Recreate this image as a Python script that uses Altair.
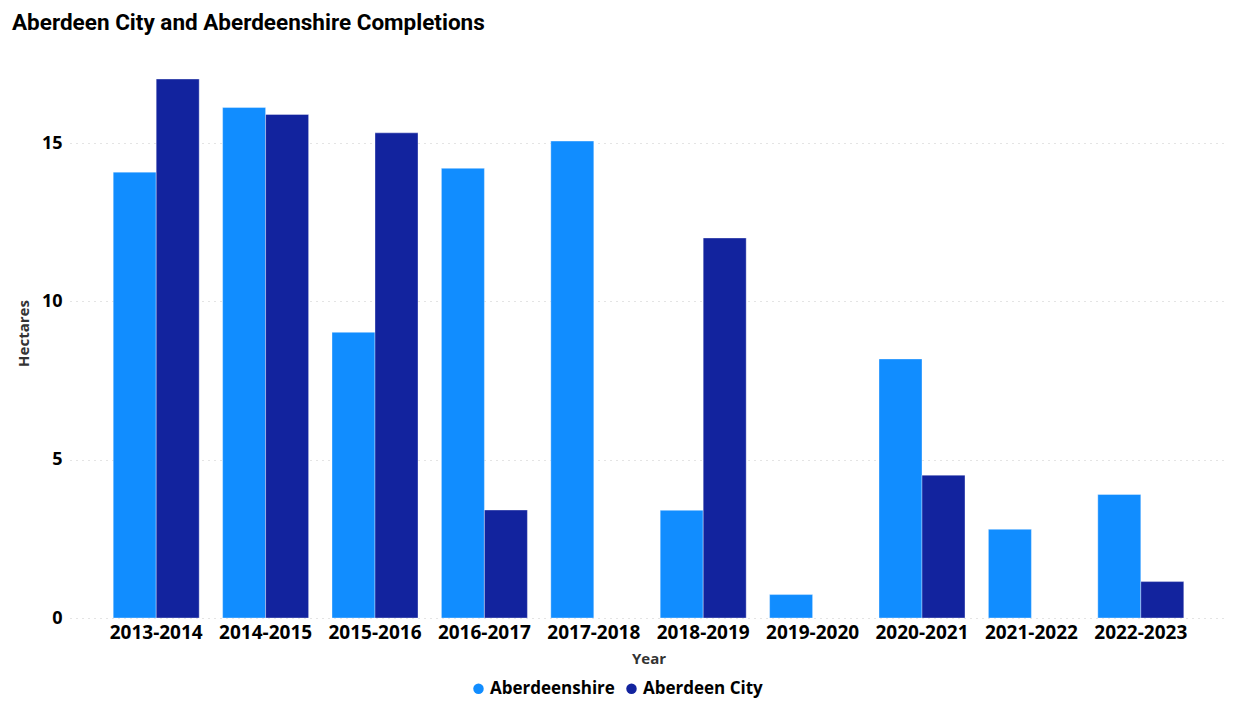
import altair as alt
import pandas as pd

years = ["2013-2014", "2014-2015", "2015-2016", "2016-2017", "2017-2018",
         "2018-2019", "2019-2020", "2020-2021", "2021-2022", "2022-2023"]
shire = [14.08, 16.12, 9.02, 14.2, 15.06, 3.4, 0.74, 8.18, 2.8, 3.9]
city = [17.02, 15.9, 15.32, 3.41, None, 12.0, None, 4.51, None, 1.15]
series = ["Aberdeenshire", "Aberdeen City"]
colors = ["#118DFF", "#12239E"]

rows = []
for y, s, c in zip(years, shire, city):
    rows.append({"Year": y, "Series": series[0], "Hectares": s})
    if c is not None:
        rows.append({"Year": y, "Series": series[1], "Hectares": c})
df = pd.DataFrame(rows)

chart = alt.Chart(df).mark_bar(stroke="#ffffff", strokeOpacity=0.35, strokeWidth=1).encode(
    x=alt.X("Year:N", sort=years,
            scale=alt.Scale(paddingInner=0.214, paddingOuter=0.395),
            axis=alt.Axis(title="Year", labelAngle=0, labelFont="Open Sans",
                          labelFontWeight="bold", labelFontSize=19, labelColor="#000000",
                          labelPadding=5, ticks=False, domain=False,
                          titleFont="Open Sans", titleFontWeight="bold", titleFontSize=15,
                          titleColor="#333333", titlePadding=9)),
    xOffset=alt.XOffset("Series:N", sort=series, scale=alt.Scale(domain=series, paddingInner=0, paddingOuter=0)),
    y=alt.Y("Hectares:Q", scale=alt.Scale(domain=[0, 18], nice=False),
            axis=alt.Axis(title="Hectares", values=[0, 5, 10, 15], labelFont="Open Sans",
                          labelFontWeight="bold", labelFontSize=18, labelColor="#000000",
                          labelPadding=8, ticks=False, domain=False,
                          gridDash=[1, 5], gridColor="#c8c8c8", gridWidth=1,
                          titleFont="Open Sans", titleFontWeight="bold", titleFontSize=15,
                          titleColor="#333333", titlePadding=10)),
    color=alt.Color("Series:N", sort=series,
                    scale=alt.Scale(domain=series, range=colors),
                    legend=alt.Legend(title=None, orient="none", direction="horizontal",
                                      legendX=400, legendY=632, symbolType="circle",
                                      symbolSize=110, symbolOpacity=1, symbolStrokeWidth=0,
                                      labelFont="Open Sans", labelFontWeight="bold",
                                      labelFontSize=17, labelColor="#000000",
                                      labelOffset=3, columnPadding=8)),
).properties(
    width=1157,
    height=570,
    title=alt.Title("Aberdeen City and Aberdeenshire Completions", anchor="start",
                    frame="group", font="Roboto", fontWeight="bold", fontSize=22.5,
                    color="#000000", dx=-58, offset=14),
    autosize=alt.AutoSizeParams(type="none"),
    padding={"left": 62, "top": 40, "right": 0, "bottom": 80},
).configure_view(stroke=None)

chart.save("out.html", embed_options={"renderer": "svg", "actions": False})
